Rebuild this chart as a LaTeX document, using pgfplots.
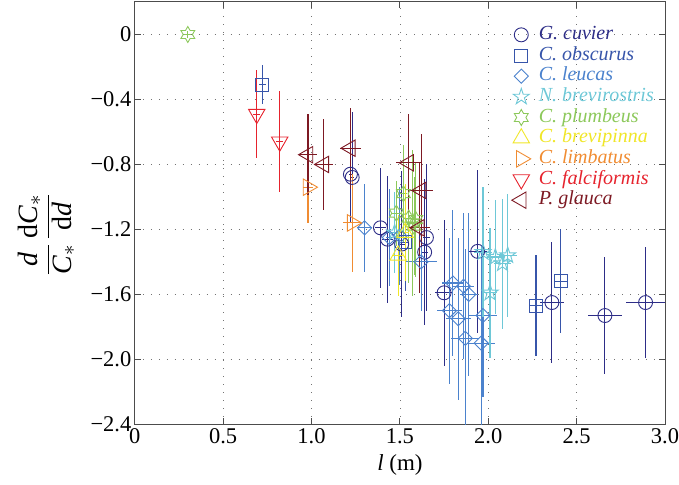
\documentclass[border=0pt]{standalone}
\usepackage{pgfplots}
\pgfplotsset{compat=1.18}
\usepackage{fontspec}
\setmainfont{Liberation Serif}
\definecolor{cGc}{RGB}{45,45,135}
\definecolor{cCo}{RGB}{55,85,170}
\definecolor{cCl}{RGB}{75,130,205}
\definecolor{cNb}{RGB}{110,200,215}
\definecolor{cCp}{RGB}{140,200,90}
\definecolor{cCb}{RGB}{240,230,40}
\definecolor{cCli}{RGB}{240,140,50}
\definecolor{cCf}{RGB}{230,35,45}
\definecolor{cPg}{RGB}{125,25,35}
\pgfdeclareplotmark{hexagram}{%
  \pgfpathmoveto{\pgfqpoint{0pt}{\pgfplotmarksize}}%
  \pgfpathlineto{\pgfqpoint{-0.289\pgfplotmarksize}{0.5\pgfplotmarksize}}%
  \pgfpathlineto{\pgfqpoint{-0.866\pgfplotmarksize}{0.5\pgfplotmarksize}}%
  \pgfpathlineto{\pgfqpoint{-0.577\pgfplotmarksize}{0pt}}%
  \pgfpathlineto{\pgfqpoint{-0.866\pgfplotmarksize}{-0.5\pgfplotmarksize}}%
  \pgfpathlineto{\pgfqpoint{-0.289\pgfplotmarksize}{-0.5\pgfplotmarksize}}%
  \pgfpathlineto{\pgfqpoint{0pt}{-\pgfplotmarksize}}%
  \pgfpathlineto{\pgfqpoint{0.289\pgfplotmarksize}{-0.5\pgfplotmarksize}}%
  \pgfpathlineto{\pgfqpoint{0.866\pgfplotmarksize}{-0.5\pgfplotmarksize}}%
  \pgfpathlineto{\pgfqpoint{0.577\pgfplotmarksize}{0pt}}%
  \pgfpathlineto{\pgfqpoint{0.866\pgfplotmarksize}{0.5\pgfplotmarksize}}%
  \pgfpathlineto{\pgfqpoint{0.289\pgfplotmarksize}{0.5\pgfplotmarksize}}%
  \pgfpathclose\pgfusepathqstroke}
\pgfdeclareplotmark{pentagram}{%
  \pgfpathmoveto{\pgfqpoint{0pt}{\pgfplotmarksize}}%
  \pgfpathlineto{\pgfqpoint{-0.2245\pgfplotmarksize}{0.309\pgfplotmarksize}}%
  \pgfpathlineto{\pgfqpoint{-0.951\pgfplotmarksize}{0.309\pgfplotmarksize}}%
  \pgfpathlineto{\pgfqpoint{-0.3633\pgfplotmarksize}{-0.118\pgfplotmarksize}}%
  \pgfpathlineto{\pgfqpoint{-0.5878\pgfplotmarksize}{-0.809\pgfplotmarksize}}%
  \pgfpathlineto{\pgfqpoint{0pt}{-0.382\pgfplotmarksize}}%
  \pgfpathlineto{\pgfqpoint{0.5878\pgfplotmarksize}{-0.809\pgfplotmarksize}}%
  \pgfpathlineto{\pgfqpoint{0.3633\pgfplotmarksize}{-0.118\pgfplotmarksize}}%
  \pgfpathlineto{\pgfqpoint{0.951\pgfplotmarksize}{0.309\pgfplotmarksize}}%
  \pgfpathlineto{\pgfqpoint{0.2245\pgfplotmarksize}{0.309\pgfplotmarksize}}%
  \pgfpathclose\pgfusepathqstroke}
\pgfplotsset{
  sp/.style={only marks, color=#1, line width=0.9pt,
    mark options={solid, line width=0.9pt, fill=none},
    error bars/x dir=both, error bars/x explicit,
    error bars/y dir=both, error bars/y explicit,
    error bars/error mark=none,
    error bars/error bar style={line width=1.1pt, color=#1}},
}
\begin{document}
\begin{tikzpicture}
\begin{axis}[
  scale only axis, width=531pt, height=423pt,
  xmin=0, xmax=3, ymin=-2.4, ymax=0.2,
  xtick={0,0.5,1,1.5,2,2.5,3},
  xticklabels={0,0.5,1.0,1.5,2.0,2.5,3.0},
  ytick={-2.4,-2.0,-1.6,-1.2,-0.8,-0.4,0},
  yticklabels={−2.4,−2.0,−1.6,−1.2,−0.8,−0.4,0},
  tick label style={font=\fontsize{22.5}{26}\selectfont, color=black},
  xticklabel style={yshift=-1pt},
  grid=major,
  major grid style={black!55, line width=0.8pt, dash pattern=on 0.8pt off 7.2pt},
  tick align=inside, major tick length=6pt,
  every tick/.style={black!70, line width=0.9pt},
  axis line style={black!70, line width=1pt},
  xlabel={\textit{l} (m)},
  xlabel style={font=\fontsize{23}{26}\selectfont, at={(axis description cs:0.5,-0.097)}, anchor=center},
  ylabel={$\displaystyle\frac{\textit{d}}{\textit{C}_*}\,\frac{\textup{d}\textit{C}_*}{\textup{d}\textit{d}}$},
  ylabel style={font=\fontsize{28}{32}\selectfont, at={(axis description cs:-0.167,0.45)}, anchor=center, rotate=0},
  legend style={at={(axis cs:2.115,0.075)}, anchor=north west, draw=none, fill=none,
    font=\fontsize{20}{22}\selectfont, row sep=0pt, column sep=7pt,
    nodes={inner sep=1pt, text height=14pt, text depth=4.7pt}},
  legend cell align=left,
]
% G. cuvier
\addplot[sp=cGc, mark=o, mark size=7pt] coordinates {
 (1.22,-0.86) +- (0.01,0.30)
 (1.23,-0.88) +- (0.01,0.40)
 (1.39,-1.19) +- (0.03,0.37)
 (1.43,-1.26) +- (0.03,0.39)
 (1.51,-1.29) +- (0.02,0.45)
 (1.65,-1.25) +- (0.02,0.45)
 (1.64,-1.34) +- (0.02,0.45)
 (1.75,-1.59) +- (0.05,0.45)
 (1.94,-1.335) +- (0.05,0.50)
 (2.36,-1.65) +- (0.07,0.37)
 (2.66,-1.73) +- (0.096,0.36)
 (2.89,-1.65) +- (0.11,0.34)
};
\addlegendentry{\textcolor{cGc}{\textit{G. cuvier}}}
% C. obscurus
\addplot[sp=cCo, mark=square, mark size=6.5pt] coordinates {
 (0.72,-0.31) +- (0.02,0.12)
 (1.53,-1.28) +- (0.02,0.30)
 (2.27,-1.67) +- (0.04,0.31)
 (2.41,-1.52) +- (0.04,0.32)
};
\addlegendentry{\textcolor{cCo}{\textit{C. obscurus}}}
% C. leucas
\addplot[sp=cCl, mark=square, mark size=5pt, mark options={rotate=45}] coordinates {
 (1.30,-1.19) +- (0.04,0.27)
 (1.44,-1.25) +- (0.02,0.30)
 (1.50,-1.24) +- (0.02,0.30)
 (1.62,-1.40) +- (0.09,0.30)
 (1.80,-1.53) +- (0.06,0.45)
 (1.86,-1.55) +- (0.06,0.45)
 (1.89,-1.60) +- (0.05,0.50)
 (1.78,-1.70) +- (0.07,0.45)
 (1.83,-1.75) +- (0.07,0.50)
 (1.97,-1.73) +- (0.08,0.50)
 (1.87,-1.87) +- (0.08,0.55)
 (1.96,-1.90) +- (0.08,0.60)
};
\addlegendentry{\textcolor{cCl}{\textit{C. leucas}}}
% N. brevirostris
\addplot[sp=cNb, mark=pentagram, mark size=8.5pt] coordinates {
 (1.47,-1.22) +- (0.02,0.25)
 (1.97,-1.34) +- (0.05,0.40)
 (2.04,-1.37) +- (0.05,0.35)
 (2.08,-1.41) +- (0.05,0.40)
 (2.11,-1.36) +- (0.05,0.38)
 (2.01,-1.59) +- (0.04,0.40)
};
\addlegendentry{\textcolor{cNb}{\textit{N. brevirostris}}}
% C. plumbeus
\addplot[sp=cCp, mark=hexagram, mark size=8pt] coordinates {
 (0.30,0.00) +- (0.02,0.02)
 (1.48,-1.10) +- (0.03,0.20)
 (1.52,-0.98) +- (0.02,0.30)
 (1.55,-1.13) +- (0.03,0.40)
 (1.57,-1.16) +- (0.03,0.45)
 (1.59,-1.14) +- (0.03,0.35)
 (1.58,-1.18) +- (0.02,0.30)
};
\addlegendentry{\textcolor{cCp}{\textit{C. plumbeus}}}
% C. brevipinna
\addplot[sp=cCb, mark=triangle, mark size=9.5pt] coordinates {
 (1.49,-1.36) +- (0.03,0.25)
 (1.53,-1.22) +- (0.02,0.30)
};
\addlegendentry{\textcolor{cCb}{\textit{C. brevipinna}}}
% C. limbatus
\addplot[sp=cCli, mark=triangle, mark size=9.5pt, mark options={rotate=-90}] coordinates {
 (0.98,-0.94) +- (0.03,0.22)
 (1.23,-1.16) +- (0.05,0.30)
};
\addlegendentry{\textcolor{cCli}{\textit{C. limbatus}}}
% C. falciformis
\addplot[sp=cCf, mark=triangle, mark size=9.5pt, mark options={rotate=180}] coordinates {
 (0.69,-0.49) +- (0.02,0.27)
 (0.82,-0.66) +- (0.02,0.31)
};
\addlegendentry{\textcolor{cCf}{\textit{C. falciformis}}}
% P. glauca
\addplot[sp=cPg, mark=triangle, mark size=9.5pt, mark options={rotate=90}] coordinates {
 (0.98,-0.74) +- (0.05,0.25)
 (1.07,-0.80) +- (0.05,0.28)
 (1.22,-0.70) +- (0.06,0.25)
 (1.55,-0.79) +- (0.07,0.30)
 (1.62,-0.96) +- (0.07,0.35)
 (1.61,-1.19) +- (0.06,0.40)
};
\addlegendentry{\textcolor{cPg}{\textit{P. glauca}}}
\end{axis}
\pgfresetboundingbox
\path ([shift={(-135pt,-60pt)}]current axis.south west) rectangle ([shift={(14pt,2pt)}]current axis.north east);
\end{tikzpicture}
\end{document}
